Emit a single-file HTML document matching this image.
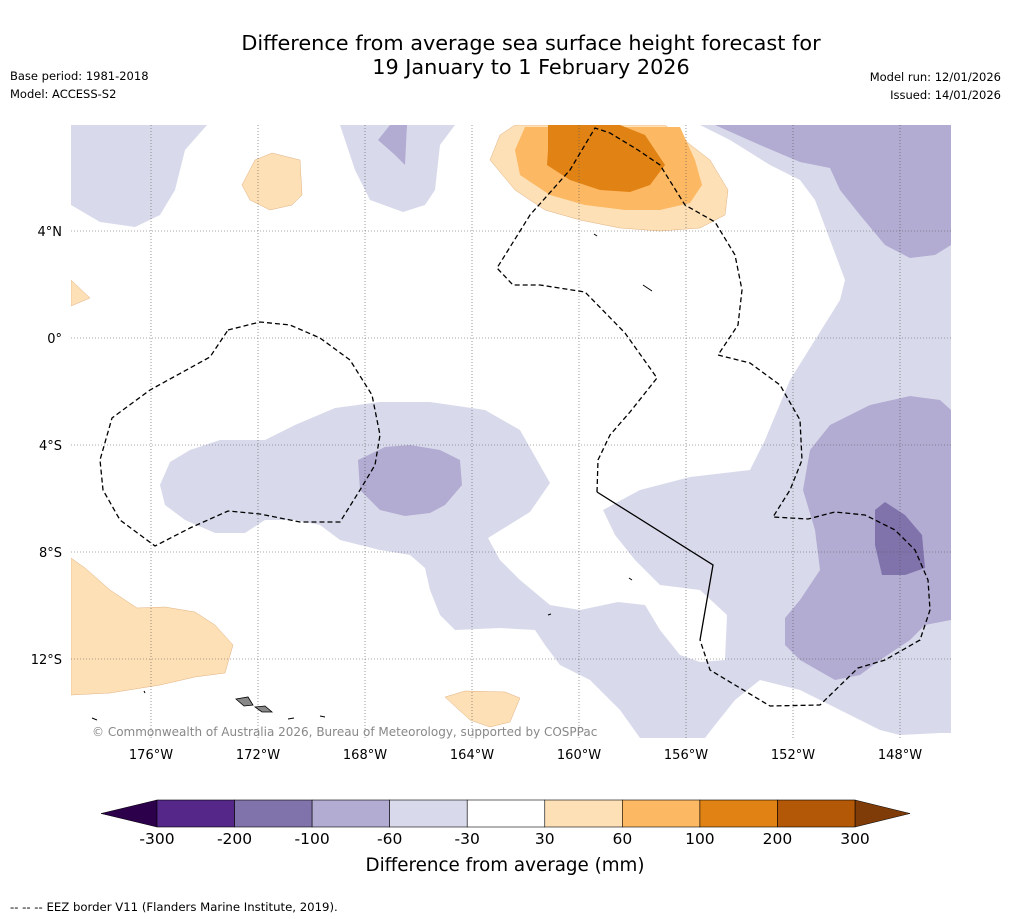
<!DOCTYPE html>
<html><head><meta charset="utf-8"><style>
body{margin:0;background:#fff;font-family:"DejaVu Sans","Liberation Sans",sans-serif;}
svg{display:block}
</style></head><body>
<svg id="c" width="1011" height="919" viewBox="0 0 1011 919">
<text x="531" y="50" font-size="20.8" text-anchor="middle">Difference from average sea surface height forecast for</text>
<text x="531" y="74" font-size="20.8" text-anchor="middle">19 January to 1 February 2026</text>
<text x="10" y="80" font-size="11.5">Base period: 1981-2018</text>
<text x="10" y="98" font-size="11.5">Model: ACCESS-S2</text>
<text x="1001" y="81" font-size="11.5" text-anchor="end">Model run: 12/01/2026</text>
<text x="1001" y="99" font-size="11.5" text-anchor="end">Issued: 14/01/2026</text>
<defs><clipPath id="mc"><rect x="71" y="125" width="880" height="613"/></clipPath></defs>
<g clip-path="url(#mc)">
<g stroke="none">
<path fill="#d8daeb" d="M71,125L207,125L185,150L175,190L160,215L135,227L100,222L71,205Z"/>
<path fill="#d8daeb" d="M340,125L455,125L440,145L435,190L425,205L403,212L370,200L355,170Z"/>
<path fill="#b2abd2" d="M378,140L390,125L407,125L405,165L395,155Z"/>
<path fill="#d8daeb" d="M700,125L951,125L951,733L940,733L900,735L880,730L850,715L800,690L760,680L735,700L715,725L705,738L640,738L620,710L590,680L560,665L545,645L535,630L500,628L455,630L440,615L430,590L425,568L410,555L380,550L340,540L320,525L295,520L265,520L245,533L215,533L185,520L165,505L160,485L170,462L190,450L220,440L265,440L295,425L335,408L380,402L430,402L485,410L520,430L550,483L530,512L488,538L500,560L520,580L550,605L580,610L618,602L645,605L660,630L680,655L700,662L725,660L727,615L700,590L660,585L635,560L615,535L603,510L640,490L690,477L750,470L765,440L790,380L815,340L840,300L845,280L830,240L815,200L800,180L770,165L730,140Z"/>
<path fill="#b2abd2" d="M715,125L951,125L951,245L935,255L910,258L885,245L860,215L840,190L830,168L800,162L760,145Z"/>
<path fill="#b2abd2" d="M951,410L940,400L910,396L870,405L830,425L810,450L803,490L815,530L820,570L800,600L785,618L785,645L800,660L835,680L860,675L880,660L910,640L925,625L951,620Z"/>
<path fill="#8073ac" d="M875,510L885,502L905,515L922,535L925,568L905,575L882,575L875,545Z"/>
<path fill="#b2abd2" d="M358,460L385,447L410,445L440,450L460,460L462,485L445,505L430,513L405,516L380,510L360,490Z"/>
<path fill="#fee0b6" stroke="#e0b080" stroke-width="0.5" d="M490,160L500,135L515,125L665,125L710,160L728,190L725,215L700,228L660,231L620,228L580,220L545,210L515,190Z"/>
<path fill="#fdb863" d="M515,150L525,127L680,127L695,160L702,185L690,203L660,210L625,210L585,205L550,195L520,175Z"/>
<path fill="#e08214" d="M548,150L548,125L620,125L645,135L665,165L650,185L630,192L600,190L570,180L547,165Z"/>
<path fill="#fee0b6" stroke="#e0b080" stroke-width="0.5" d="M242,185L255,160L272,153L300,160L302,195L292,205L270,210L250,200Z"/>
<path fill="#fee0b6" stroke="#e0b080" stroke-width="0.5" d="M71,280L90,298L71,306Z"/>
<path fill="#fee0b6" stroke="#e0b080" stroke-width="0.5" d="M71,558L85,568L110,590L137,608L165,607L195,612L215,625L233,645L225,673L195,677L160,685L110,693L71,695Z"/>
<path fill="#fee0b6" stroke="#e0b080" stroke-width="0.5" d="M445,697L465,691L505,692L520,698L510,722L490,727L470,720Z"/>
</g>
<g id="grid"></g>
<g fill="none" stroke="#000" stroke-width="1.3">
<path stroke-dasharray="5,3" d="M228,330L260,322L290,325L320,338L350,360L372,395L380,435L375,465L360,490L340,522L300,522L260,514L228,511L190,528L155,546L120,520L103,490L100,460L112,418L150,390L210,357Z"/>
<path stroke-dasharray="5,3" d="M597,492L598,460L610,435L630,412L657,378L625,333L585,292L540,285L513,285L497,268L530,215L570,170L595,128L610,133L638,150L660,165L685,205L715,222L735,255L742,290L738,325L718,355L750,363L780,385L800,420L802,460L790,490L773,517L808,519L835,512L865,515L895,530L915,550L928,580L930,610L920,640L885,660L858,668L820,705L770,706L710,670L700,640"/>
<path d="M597,492L713,565L700,640"/>
</g>
<g>
<path fill="#888" stroke="#000" stroke-width="0.8" d="M236,699L248,697L253,705L244,706Z"/>
<path fill="#888" stroke="#000" stroke-width="0.8" d="M255,707L265,706L272,712L262,712Z"/>
<path fill="none" stroke="#000" stroke-width="1" d="M643,285L652,291M594,234L597,236M629,578L632,580M548,615L551,614M288,719L294,718M92,718L97,720M144,691L145,693M320,716L325,717"/>
</g>
</g>
<g id="axes" font-size="13"></g>
<text x="92" y="736" font-size="12" fill="#888">© Commonwealth of Australia 2026, Bureau of Meteorology, supported by COSPPac</text>
<g id="cbar"></g>
<text x="505" y="871" font-size="18.3" text-anchor="middle">Difference from average (mm)</text>
<text x="10" y="911" font-size="11.7">-- -- -- EEZ border V11 (Flanders Marine Institute, 2019).</text>
</svg>
<script>
const lonTicks=[-176,-172,-168,-164,-160,-156,-152,-148];
const latTicks=[4,0,-4,-8,-12];
const cbBounds=[-300,-200,-100,-60,-30,30,60,100,200,300];
const cbColors=["#542788","#8073ac","#b2abd2","#d8daeb","#ffffff","#fee0b6","#fdb863","#e08214","#b35806"];
const extLow="#2d004b", extHigh="#7f3b08";
const NS="http://www.w3.org/2000/svg";
const xL=l=>151+(l+176)*26.75, yL=l=>338-l*26.75;
function mk(t,a,p,txt){const e=document.createElementNS(NS,t);for(const k in a)e.setAttribute(k,a[k]);if(txt!==undefined)e.textContent=txt;p.appendChild(e);return e;}
const g=document.getElementById('grid'),ax=document.getElementById('axes'),cb=document.getElementById('cbar');
lonTicks.forEach(l=>{
 const ln=mk('line',{x1:xL(l),x2:xL(l),y1:125,y2:738,stroke:'#555','stroke-width':0.6,'stroke-dasharray':'1,2'},g);
 
 
 const t=mk('text',{x:xL(l),y:759,'text-anchor':'middle'},ax,Math.abs(l)+'°W');
 
 
});
latTicks.forEach(l=>{
 const ln=mk('line',{x1:71,x2:951,y1:yL(l),y2:yL(l),stroke:'#555','stroke-width':0.6,'stroke-dasharray':'1,2'},g);
 
 
 const lab=l===0?'0°':Math.abs(l)+'°'+(l>0?'N':'S');
 const t=mk('text',{x:62,y:yL(l)+5,'text-anchor':'end'},ax,lab);
 
 
});
const c0=157,c1=855,cy=800,ch=27,n=cbColors.length,w=(c1-c0)/n;
const lo=mk('path',{d:`M${c0},${cy}L101,${cy+ch/2}L${c0},${cy+ch}Z`,fill:extLow,stroke:'#000','stroke-width':0.5},cb);


const hi=mk('path',{d:`M${c1},${cy}L910,${cy+ch/2}L${c1},${cy+ch}Z`,fill:extHigh,stroke:'#000','stroke-width':0.5},cb);


cbColors.forEach((c,i)=>{
 const r=mk('rect',{x:c0+i*w,y:cy,width:w,height:ch,fill:c,stroke:'#000','stroke-width':0.6},cb);
 
 
});
cbBounds.forEach((b,i)=>{
 const t=mk('text',{x:c0+i*w,y:844,'text-anchor':'middle','font-size':15.5},cb,String(b));
 
 
});
</script>
</body></html>
